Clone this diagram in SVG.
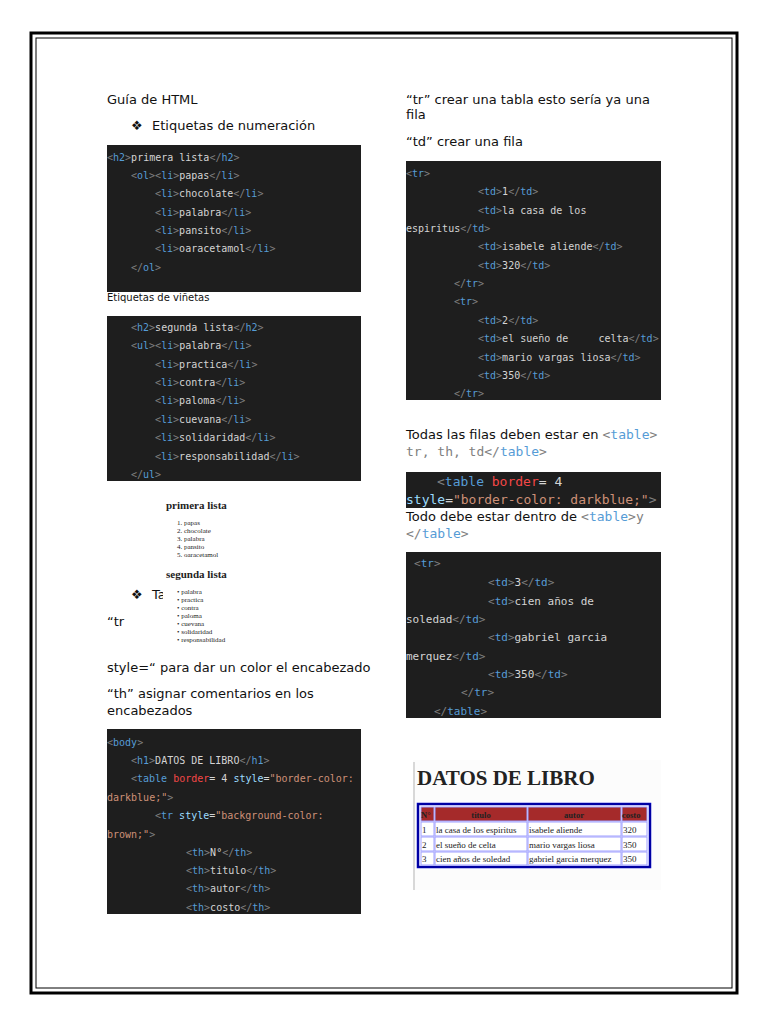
<svg xmlns="http://www.w3.org/2000/svg" width="768" height="1024" viewBox="0 0 768 1024">
<style>
.t{font-family:"DejaVu Sans",sans-serif;font-size:13px;fill:#111}
.s{font-family:"DejaVu Sans",sans-serif;font-size:10px;fill:#111}
.c{font-family:"DejaVu Sans Mono",monospace;font-size:10px;fill:#d4d4d4}
.c2{font-family:"DejaVu Sans Mono",monospace;font-size:11px;fill:#d4d4d4}
.b{fill:#808080}.n{fill:#569cd6}.a{fill:#9cdcfe}.v{fill:#ce9178}.r{fill:#f44747}
.bg{fill:#1e1e1e}
.sr{font-family:"Liberation Serif",serif;fill:#222}
.cell{fill:#fff;stroke:#a0a0ff;stroke-width:1}
.hc{fill:#a52a2a;stroke:#a0a0ff;stroke-width:1}
</style>
<rect width="768" height="1024" fill="#fff"/>
<rect x="31" y="33" width="706" height="960" fill="none" stroke="#000" stroke-width="3"/>
<rect x="36" y="38" width="696" height="950" fill="none" stroke="#000" stroke-width="1"/>

<g id="left-text">
<text class="t" x="107" y="104">Guía de HTML</text>
<text class="t" x="131" y="130">❖</text>
<text class="t" x="152" y="130">Etiquetas de numeración</text>
<text class="s" x="107" y="301">Etiquetas de viñetas</text>
<text class="t" x="131" y="599">❖</text>
<text class="t" x="152" y="599">Ta</text>
<text class="t" x="107" y="626">“tr</text>
<text class="t" x="107" y="672">style=“ para dar un color el encabezado</text>
<text class="t" x="107" y="698"> “th” asignar comentarios en los</text>
<text class="t" x="107" y="715">encabezados</text>
</g>

<g id="code1">
<rect class="bg" x="107" y="145" width="254" height="147"/>
<text class="c" x="107" y="161"><tspan class="b">&lt;</tspan><tspan class="n">h2</tspan><tspan class="b">&gt;</tspan>primera lista<tspan class="b">&lt;/</tspan><tspan class="n">h2</tspan><tspan class="b">&gt;</tspan></text>
<text class="c" x="131" y="179"><tspan class="b">&lt;</tspan><tspan class="n">ol</tspan><tspan class="b">&gt;&lt;</tspan><tspan class="n">li</tspan><tspan class="b">&gt;</tspan>papas<tspan class="b">&lt;/</tspan><tspan class="n">li</tspan><tspan class="b">&gt;</tspan></text>
<text class="c" x="155" y="197"><tspan class="b">&lt;</tspan><tspan class="n">li</tspan><tspan class="b">&gt;</tspan>chocolate<tspan class="b">&lt;/</tspan><tspan class="n">li</tspan><tspan class="b">&gt;</tspan></text>
<text class="c" x="155" y="216"><tspan class="b">&lt;</tspan><tspan class="n">li</tspan><tspan class="b">&gt;</tspan>palabra<tspan class="b">&lt;/</tspan><tspan class="n">li</tspan><tspan class="b">&gt;</tspan></text>
<text class="c" x="155" y="234"><tspan class="b">&lt;</tspan><tspan class="n">li</tspan><tspan class="b">&gt;</tspan>pansito<tspan class="b">&lt;/</tspan><tspan class="n">li</tspan><tspan class="b">&gt;</tspan></text>
<text class="c" x="155" y="252"><tspan class="b">&lt;</tspan><tspan class="n">li</tspan><tspan class="b">&gt;</tspan>oaracetamol<tspan class="b">&lt;/</tspan><tspan class="n">li</tspan><tspan class="b">&gt;</tspan></text>
<text class="c" x="131" y="271"><tspan class="b">&lt;/</tspan><tspan class="n">ol</tspan><tspan class="b">&gt;</tspan></text>
</g>

<g id="code2">
<rect class="bg" x="107" y="316" width="254" height="165"/>
<text class="c" x="131" y="331"><tspan class="b">&lt;</tspan><tspan class="n">h2</tspan><tspan class="b">&gt;</tspan>segunda lista<tspan class="b">&lt;/</tspan><tspan class="n">h2</tspan><tspan class="b">&gt;</tspan></text>
<text class="c" x="131" y="349"><tspan class="b">&lt;</tspan><tspan class="n">ul</tspan><tspan class="b">&gt;&lt;</tspan><tspan class="n">li</tspan><tspan class="b">&gt;</tspan>palabra<tspan class="b">&lt;/</tspan><tspan class="n">li</tspan><tspan class="b">&gt;</tspan></text>
<text class="c" x="155" y="368"><tspan class="b">&lt;</tspan><tspan class="n">li</tspan><tspan class="b">&gt;</tspan>practica<tspan class="b">&lt;/</tspan><tspan class="n">li</tspan><tspan class="b">&gt;</tspan></text>
<text class="c" x="155" y="386"><tspan class="b">&lt;</tspan><tspan class="n">li</tspan><tspan class="b">&gt;</tspan>contra<tspan class="b">&lt;/</tspan><tspan class="n">li</tspan><tspan class="b">&gt;</tspan></text>
<text class="c" x="155" y="404"><tspan class="b">&lt;</tspan><tspan class="n">li</tspan><tspan class="b">&gt;</tspan>paloma<tspan class="b">&lt;/</tspan><tspan class="n">li</tspan><tspan class="b">&gt;</tspan></text>
<text class="c" x="155" y="423"><tspan class="b">&lt;</tspan><tspan class="n">li</tspan><tspan class="b">&gt;</tspan>cuevana<tspan class="b">&lt;/</tspan><tspan class="n">li</tspan><tspan class="b">&gt;</tspan></text>
<text class="c" x="155" y="441"><tspan class="b">&lt;</tspan><tspan class="n">li</tspan><tspan class="b">&gt;</tspan>solidaridad<tspan class="b">&lt;/</tspan><tspan class="n">li</tspan><tspan class="b">&gt;</tspan></text>
<text class="c" x="155" y="460"><tspan class="b">&lt;</tspan><tspan class="n">li</tspan><tspan class="b">&gt;</tspan>responsabilidad<tspan class="b">&lt;/</tspan><tspan class="n">li</tspan><tspan class="b">&gt;</tspan></text>
<text class="c" x="131" y="478"><tspan class="b">&lt;/</tspan><tspan class="n">ul</tspan><tspan class="b">&gt;</tspan></text>
</g>

<g id="render-lists">
<rect x="163" y="493" width="150" height="155" fill="#fff"/>
<text class="sr" x="166" y="509" font-size="11" font-weight="bold" fill="#111">primera lista</text>
<g class="sr" font-size="7">
<text x="177" y="525">1. papas</text><text x="177" y="533">2. chocolate</text><text x="177" y="541">3. palabra</text><text x="177" y="549">4. pansito</text><text x="177" y="557">5. oaracetamol</text>
</g>
<text class="sr" x="166" y="578" font-size="11" font-weight="bold" fill="#111">segunda lista</text>
<g class="sr" font-size="7">
<text x="177" y="594">• palabra</text><text x="177" y="602">• practica</text><text x="177" y="610">• contra</text><text x="177" y="618">• paloma</text><text x="177" y="626">• cuevana</text><text x="177" y="634">• solidaridad</text><text x="177" y="642">• responsabilidad</text>
</g>
</g>

<g id="code6">
<rect class="bg" x="107" y="729" width="254" height="185"/>
<text class="c" x="107" y="746"><tspan class="b">&lt;</tspan><tspan class="n">body</tspan><tspan class="b">&gt;</tspan></text>
<text class="c" x="131" y="764"><tspan class="b">&lt;</tspan><tspan class="n">h1</tspan><tspan class="b">&gt;</tspan>DATOS DE LIBRO<tspan class="b">&lt;/</tspan><tspan class="n">h1</tspan><tspan class="b">&gt;</tspan></text>
<text class="c" x="131" y="782"><tspan class="b">&lt;</tspan><tspan class="n">table</tspan> <tspan class="r">border</tspan>= 4 <tspan class="a">style</tspan>=<tspan class="v">"border-color:</tspan></text>
<text class="c" x="107" y="801"><tspan class="v">darkblue;"</tspan><tspan class="b">&gt;</tspan></text>
<text class="c" x="155" y="819"><tspan class="b">&lt;</tspan><tspan class="n">tr</tspan> <tspan class="a">style</tspan>=<tspan class="v">"background-color:</tspan></text>
<text class="c" x="107" y="838"><tspan class="v">brown;"</tspan><tspan class="b">&gt;</tspan></text>
<text class="c" x="186" y="856"><tspan class="b">&lt;</tspan><tspan class="n">th</tspan><tspan class="b">&gt;</tspan>N°<tspan class="b">&lt;/</tspan><tspan class="n">th</tspan><tspan class="b">&gt;</tspan></text>
<text class="c" x="186" y="874"><tspan class="b">&lt;</tspan><tspan class="n">th</tspan><tspan class="b">&gt;</tspan>titulo<tspan class="b">&lt;/</tspan><tspan class="n">th</tspan><tspan class="b">&gt;</tspan></text>
<text class="c" x="186" y="892"><tspan class="b">&lt;</tspan><tspan class="n">th</tspan><tspan class="b">&gt;</tspan>autor<tspan class="b">&lt;/</tspan><tspan class="n">th</tspan><tspan class="b">&gt;</tspan></text>
<text class="c" x="186" y="911"><tspan class="b">&lt;</tspan><tspan class="n">th</tspan><tspan class="b">&gt;</tspan>costo<tspan class="b">&lt;/</tspan><tspan class="n">th</tspan><tspan class="b">&gt;</tspan></text>
</g>

<g id="right-text">
<text class="t" x="406" y="104">“tr” crear una tabla esto sería ya una</text>
<text class="t" x="406" y="119">fila</text>
<text class="t" x="406" y="146">“td” crear una fila</text>
<text class="t" x="406" y="439">Todas las filas deben estar en <tspan font-family="DejaVu Sans Mono,monospace" fill="#808080">&lt;<tspan fill="#569cd6">table</tspan>&gt;</tspan></text>
<text x="406" y="456" font-family="DejaVu Sans Mono,monospace" font-size="13" fill="#808080">tr, th, td&lt;/<tspan fill="#569cd6">table</tspan>&gt;</text>
<text class="t" x="406" y="521">Todo debe estar dentro de <tspan font-family="DejaVu Sans Mono,monospace" fill="#808080">&lt;<tspan fill="#569cd6">table</tspan>&gt;y</tspan></text>
<text x="406" y="538" font-family="DejaVu Sans Mono,monospace" font-size="13" fill="#808080">&lt;/<tspan fill="#569cd6">table</tspan>&gt;</text>
</g>

<g id="code3">
<rect class="bg" x="406" y="161" width="255" height="239"/>
<text class="c" x="406" y="177"><tspan class="b">&lt;</tspan><tspan class="n">tr</tspan><tspan class="b">&gt;</tspan></text>
<text class="c" x="478" y="195"><tspan class="b">&lt;</tspan><tspan class="n">td</tspan><tspan class="b">&gt;</tspan>1<tspan class="b">&lt;/</tspan><tspan class="n">td</tspan><tspan class="b">&gt;</tspan></text>
<text class="c" x="478" y="214"><tspan class="b">&lt;</tspan><tspan class="n">td</tspan><tspan class="b">&gt;</tspan>la casa de los</text>
<text class="c" x="406" y="232">espiritus<tspan class="b">&lt;/</tspan><tspan class="n">td</tspan><tspan class="b">&gt;</tspan></text>
<text class="c" x="478" y="250"><tspan class="b">&lt;</tspan><tspan class="n">td</tspan><tspan class="b">&gt;</tspan>isabele aliende<tspan class="b">&lt;/</tspan><tspan class="n">td</tspan><tspan class="b">&gt;</tspan></text>
<text class="c" x="478" y="269"><tspan class="b">&lt;</tspan><tspan class="n">td</tspan><tspan class="b">&gt;</tspan>320<tspan class="b">&lt;/</tspan><tspan class="n">td</tspan><tspan class="b">&gt;</tspan></text>
<text class="c" x="454" y="287"><tspan class="b">&lt;/</tspan><tspan class="n">tr</tspan><tspan class="b">&gt;</tspan></text>
<text class="c" x="454" y="305"><tspan class="b">&lt;</tspan><tspan class="n">tr</tspan><tspan class="b">&gt;</tspan></text>
<text class="c" x="478" y="324"><tspan class="b">&lt;</tspan><tspan class="n">td</tspan><tspan class="b">&gt;</tspan>2<tspan class="b">&lt;/</tspan><tspan class="n">td</tspan><tspan class="b">&gt;</tspan></text>
<text class="c" x="478" y="342" xml:space="preserve"><tspan class="b">&lt;</tspan><tspan class="n">td</tspan><tspan class="b">&gt;</tspan>el sueño de     celta<tspan class="b">&lt;/</tspan><tspan class="n">td</tspan><tspan class="b">&gt;</tspan></text>
<text class="c" x="478" y="361"><tspan class="b">&lt;</tspan><tspan class="n">td</tspan><tspan class="b">&gt;</tspan>mario vargas liosa<tspan class="b">&lt;/</tspan><tspan class="n">td</tspan><tspan class="b">&gt;</tspan></text>
<text class="c" x="478" y="379"><tspan class="b">&lt;</tspan><tspan class="n">td</tspan><tspan class="b">&gt;</tspan>350<tspan class="b">&lt;/</tspan><tspan class="n">td</tspan><tspan class="b">&gt;</tspan></text>
<text class="c" x="454" y="397"><tspan class="b">&lt;/</tspan><tspan class="n">tr</tspan><tspan class="b">&gt;</tspan></text>
</g>

<g id="code4">
<rect class="bg" x="406" y="472" width="255" height="36"/>
<text x="437" y="486" font-family="DejaVu Sans Mono,monospace" font-size="13" fill="#d4d4d4"><tspan class="b">&lt;</tspan><tspan class="n">table</tspan> <tspan class="r">border</tspan>= 4</text>
<text x="406" y="504" font-family="DejaVu Sans Mono,monospace" font-size="13" fill="#d4d4d4"><tspan class="a">style</tspan>=<tspan class="v">"border-color: darkblue;"</tspan><tspan class="b">&gt;</tspan></text>
</g>

<g id="code5">
<rect class="bg" x="406" y="552" width="255" height="166"/>
<text class="c2" x="414" y="567"><tspan class="b">&lt;</tspan><tspan class="n">tr</tspan><tspan class="b">&gt;</tspan></text>
<text class="c2" x="488" y="586"><tspan class="b">&lt;</tspan><tspan class="n">td</tspan><tspan class="b">&gt;</tspan>3<tspan class="b">&lt;/</tspan><tspan class="n">td</tspan><tspan class="b">&gt;</tspan></text>
<text class="c2" x="488" y="605"><tspan class="b">&lt;</tspan><tspan class="n">td</tspan><tspan class="b">&gt;</tspan>cien años de</text>
<text class="c2" x="406" y="623">soledad<tspan class="b">&lt;/</tspan><tspan class="n">td</tspan><tspan class="b">&gt;</tspan></text>
<text class="c2" x="488" y="641"><tspan class="b">&lt;</tspan><tspan class="n">td</tspan><tspan class="b">&gt;</tspan>gabriel garcia</text>
<text class="c2" x="406" y="660">merquez<tspan class="b">&lt;/</tspan><tspan class="n">td</tspan><tspan class="b">&gt;</tspan></text>
<text class="c2" x="488" y="678"><tspan class="b">&lt;</tspan><tspan class="n">td</tspan><tspan class="b">&gt;</tspan>350<tspan class="b">&lt;/</tspan><tspan class="n">td</tspan><tspan class="b">&gt;</tspan></text>
<text class="c2" x="461" y="696"><tspan class="b">&lt;/</tspan><tspan class="n">tr</tspan><tspan class="b">&gt;</tspan></text>
<text class="c2" x="434" y="715"><tspan class="b">&lt;/</tspan><tspan class="n">table</tspan><tspan class="b">&gt;</tspan></text>
</g>

<g id="render-table">
<rect x="413" y="760" width="248" height="130" fill="#fcfcfc"/>
<line x1="414" y1="762" x2="414" y2="890" stroke="#ccc" stroke-width="1.5"/>
<text class="sr" x="417" y="785" font-size="21" font-weight="bold" fill="#000">DATOS DE LIBRO</text>
<rect x="418" y="804" width="232" height="63" fill="#fff" stroke="#0000d0" stroke-width="2.5"/>
<rect x="418" y="804" width="232" height="63" fill="none" stroke="#000060" stroke-width="0.8"/>
<rect class="hc" x="421" y="807" width="13" height="14"/><rect class="hc" x="435" y="807" width="92" height="14"/><rect class="hc" x="528" y="807" width="93" height="14"/><rect class="hc" x="622" y="807" width="25" height="14"/>
<rect class="cell" x="421" y="822" width="13" height="14"/><rect class="cell" x="435" y="822" width="92" height="14"/><rect class="cell" x="528" y="822" width="93" height="14"/><rect class="cell" x="622" y="822" width="25" height="14"/>
<rect class="cell" x="421" y="837" width="13" height="14"/><rect class="cell" x="435" y="837" width="92" height="14"/><rect class="cell" x="528" y="837" width="93" height="14"/><rect class="cell" x="622" y="837" width="25" height="14"/>
<rect class="cell" x="421" y="852" width="13" height="13"/><rect class="cell" x="435" y="852" width="92" height="13"/><rect class="cell" x="528" y="852" width="93" height="13"/><rect class="cell" x="622" y="852" width="25" height="13"/>
<g class="sr" font-size="8.5" font-weight="bold" fill="#000">
<text x="421" y="818">N°</text><text x="481" y="818" text-anchor="middle">titulo</text><text x="574" y="818" text-anchor="middle">autor</text><text x="622" y="818">costo</text>
</g>
<g class="sr" font-size="9" fill="#222">
<text x="422" y="833">1</text><text x="436" y="833">la casa de los espiritus</text><text x="529" y="833">isabele aliende</text><text x="623" y="833">320</text>
<text x="422" y="848">2</text><text x="436" y="848">el sueño de celta</text><text x="529" y="848">mario vargas liosa</text><text x="623" y="848">350</text>
<text x="422" y="862">3</text><text x="436" y="862">cien años de soledad</text><text x="529" y="862">gabriel garcia merquez</text><text x="623" y="862">350</text>
</g>
</g>
</svg>
